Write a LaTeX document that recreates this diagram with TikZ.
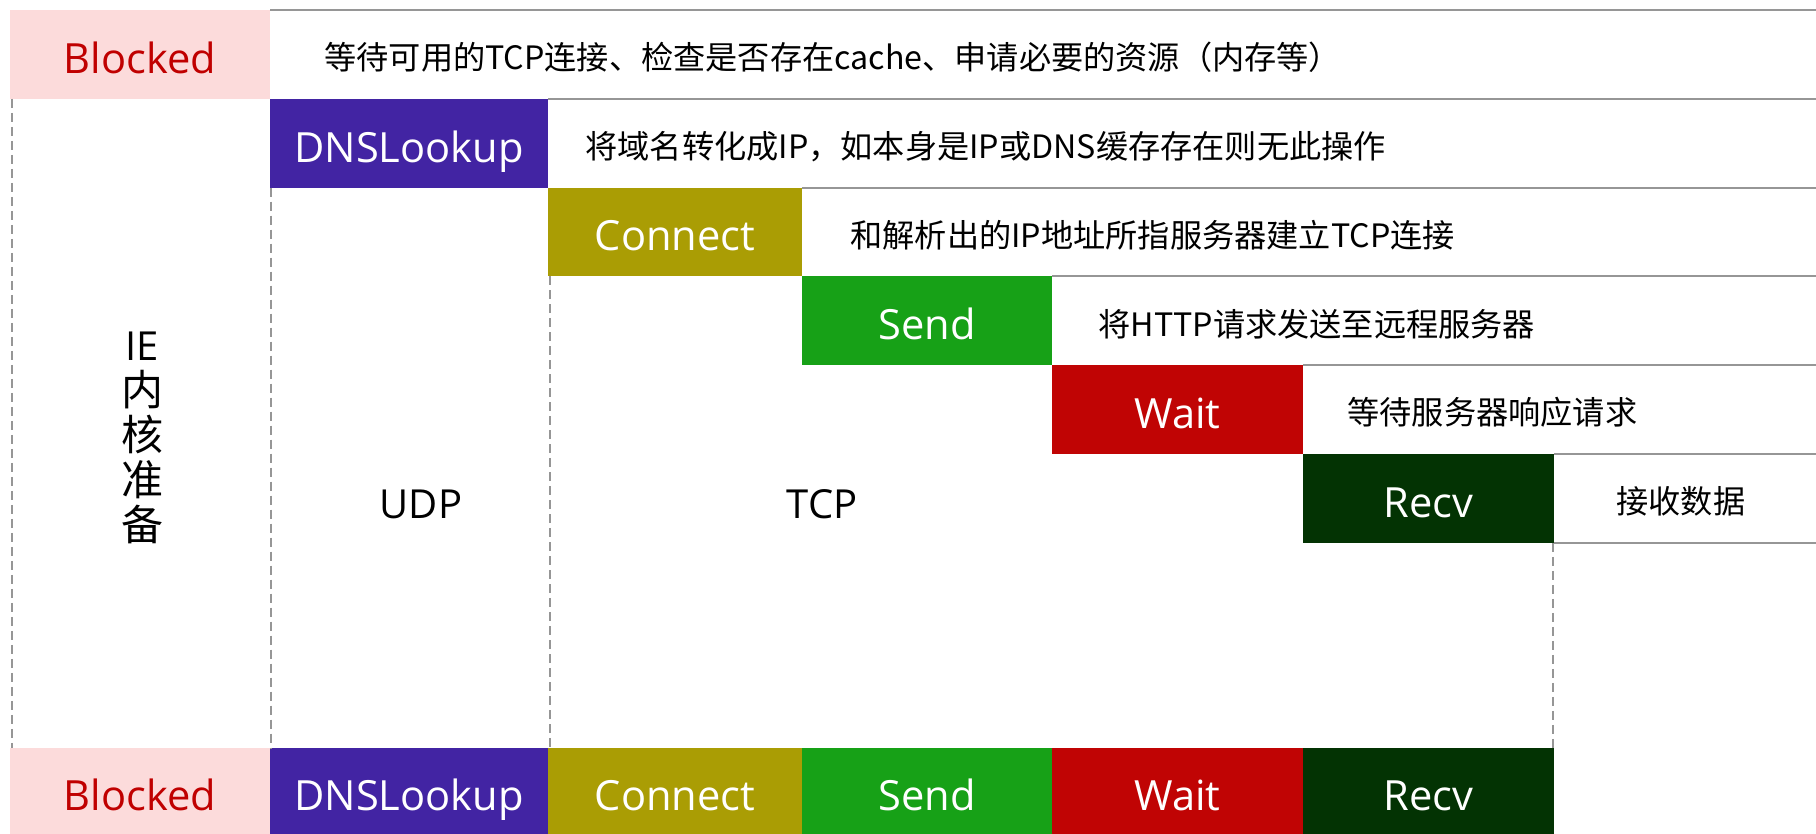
\documentclass[tikz,border=0pt]{standalone}
\usepackage{fontspec}
\setmainfont{Open Sans}
\newfontfamily\cjk{Noto Sans CJK SC}
\definecolor{blkpink}{RGB}{252,219,219}
\definecolor{blkred}{RGB}{192,0,0}
\definecolor{dnspur}{RGB}{66,36,163}
\definecolor{conolive}{RGB}{170,157,4}
\definecolor{sndgreen}{RGB}{23,161,23}
\definecolor{waitred}{RGB}{192,4,4}
\definecolor{rcvgreen}{RGB}{3,51,3}
\definecolor{linegray}{RGB}{150,150,150}
\begin{document}
\begin{tikzpicture}[x=0.5pt,y=-0.5pt,
  phase/.style={anchor=north west, inner sep=0pt, outer sep=0pt,
    minimum height=44.4pt, text=white, text height=19pt, text depth=0pt,
    font=\fontsize{20.8}{24}\selectfont},
  bphase/.style={phase, minimum height=43pt},
  desc/.style={anchor=west, inner sep=0pt, text=black, text height=15.3pt, text depth=0pt,
    font=\cjk\fontsize{16.1}{20}\selectfont},
  hline/.style={draw=linegray, line width=1pt},
  dline/.style={draw=linegray, line width=1pt, dash pattern=on 4.5pt off 2.5pt},
  plain/.style={inner sep=0pt, text=black, font=\fontsize{20}{22.5}\selectfont}
]
\useasboundingbox (0,0) rectangle (1816,834);
\coordinate (R) at (1816,0);

% top staircase boxes
\node[phase, fill=blkpink, text=blkred, minimum width=130pt] (blk) at (10,10) {Blocked};
\node[phase, fill=dnspur, minimum width=139pt] (dns) at (270,98.8) {DNSLookup};
\node[phase, fill=conolive, minimum width=127pt] (con) at (548,187.6) {Connect};
\node[phase, fill=sndgreen, minimum width=125pt] (snd) at (802,276.4) {Send};
\node[phase, fill=waitred, minimum width=125.5pt] (wai) at (1052,365.2) {Wait};
\node[phase, fill=rcvgreen, minimum width=125.5pt] (rcv) at (1303,454) {Recv};

% bottom row
\node[bphase, fill=blkpink, text=blkred, minimum width=130pt] (bblk) at (10,748) {Blocked};
\node[bphase, fill=dnspur, minimum width=139pt] (bdns) at (270,748) {DNSLookup};
\node[bphase, fill=conolive, minimum width=127pt] (bcon) at (548,748) {Connect};
\node[bphase, fill=sndgreen, minimum width=125pt] (bsnd) at (802,748) {Send};
\node[bphase, fill=waitred, minimum width=125.5pt] (bwai) at (1052,748) {Wait};
\node[bphase, fill=rcvgreen, minimum width=125.5pt] (brcv) at (1303,748) {Recv};

% horizontal grey lines
\draw[hline] (blk.north east) -- (blk.north east -| R);
\draw[hline] (dns.north east) -- (dns.north east -| R);
\draw[hline] (con.north east) -- (con.north east -| R);
\draw[hline] (snd.north east) -- (snd.north east -| R);
\draw[hline] (wai.north east) -- (wai.north east -| R);
\draw[hline] (rcv.north east) -- (rcv.north east -| R);
\draw[hline] (rcv.south east) -- (rcv.south east -| R);

% dashed verticals
\draw[dline] ([xshift=1pt]blk.south west) -- ([xshift=1pt]bblk.north west);
\draw[dline] ([xshift=0.5pt]dns.south west) -- ([xshift=0.5pt]bdns.north west);
\draw[dline] ([xshift=1pt]con.south west) -- ([xshift=1pt]bcon.north west);
\draw[dline] ([xshift=-0.5pt]rcv.south east) -- ([xshift=-0.5pt]brcv.north east);

% descriptions
\node[desc] (d0) at (324,54.4) {等待可用的TCP连接、检查是否存在cache、申请必要的资源（内存等）};
\node[desc] (d1) at (585,143.2) {将域名转化成IP，如本身是IP或DNS缓存存在则无此操作};
\node[desc] (d2) at (850,232) {和解析出的IP地址所指服务器建立TCP连接};
\node[desc] (d3) at (1098,320.8) {将HTTP请求发送至远程服务器};
\node[desc] (d4) at (1347,409.6) {等待服务器响应请求};
\node[desc] (d5) at (1616,498.4) {接收数据};

% side labels
\node[plain, align=center] (ie) at (142,438) {IE\\{\cjk\fontsize{21}{22.5}\selectfont 内}\\{\cjk\fontsize{21}{22.5}\selectfont 核}\\{\cjk\fontsize{21}{22.5}\selectfont 准}\\{\cjk\fontsize{21}{22.5}\selectfont 备}};
\node[plain] (udp) at (421,504) {UDP};
\node[plain] (tcp) at (822,504) {TCP};
\end{tikzpicture}
\end{document}
